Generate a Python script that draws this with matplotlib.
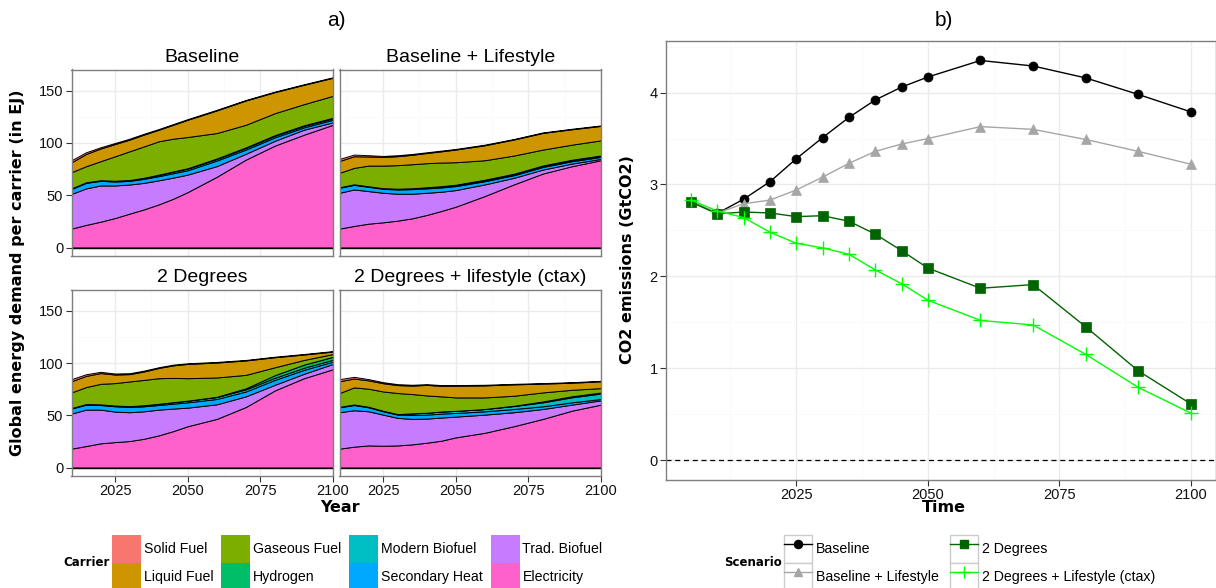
import matplotlib
matplotlib.use('Agg')
import matplotlib.pyplot as plt
from matplotlib.patches import Rectangle
from matplotlib.lines import Line2D
from matplotlib.legend_handler import HandlerTuple

plt.rcParams['font.family'] = ['Liberation Sans', 'DejaVu Sans']

# ---- data: panel a) final energy per carrier (EJ) ----
years = [2010, 2015, 2020, 2025, 2030, 2035, 2040, 2045, 2050, 2060, 2070, 2080, 2090, 2100]

carriers = ['Solid Fuel', 'Liquid Fuel', 'Gaseous Fuel', 'Hydrogen',
            'Modern Biofuel', 'Secondary Heat', 'Trad. Biofuel', 'Electricity']
carrier_colors = ['#F8766D', '#CD9600', '#7CAE00', '#00BE67',
                  '#00BFC4', '#00A9FF', '#C77CFF', '#FF61CC']

# Baseline
bl_elec = [18.1, 21.6, 24.7, 28.2, 32.4, 36.5, 41.2, 46.6, 53.0, 67.6, 84.0, 97.4, 107.8, 117.3]
bl_trad = [33.1, 34.9, 34.6, 31.1, 27.8, 25.3, 23.0, 20.2, 16.7, 10.2, 5.6, 4.6, 4.8, 2.3]
bl_heat = [4.8, 5.3, 4.4, 3.8, 3.5, 3.9, 4.0, 4.2, 4.2, 5.3, 4.0, 3.3, 2.2, 2.5]
bl_modern = [0.5, 0.5, 0.6, 0.7, 0.8, 1.0, 1.2, 1.4, 1.5, 1.5, 1.5, 1.5, 1.4, 1.3]
bl_h2 = [0, 0, 0, 0, 0, 0, 0.2, 0.3, 0.4, 0.5, 0.6, 0.6, 0.6, 0.6]
bl_gas = [15.5, 15.4, 18.2, 23.4, 27.5, 30.0, 31.9, 31.3, 29.8, 24.3, 21.6, 21.0, 20.2, 21.0]
bl_liquid = [9.4, 11.7, 12.1, 11.7, 11.1, 11.3, 11.0, 13.3, 16.5, 21.6, 23.2, 20.1, 18.5, 17.2]
bl_solid = [2.0, 1.6, 1.2, 1.0, 0.9, 0.8, 0.7, 0.7, 0.6, 0.6, 0.5, 0.5, 0.5, 0.5]

# Baseline + Lifestyle
ls_elec = [18.1, 20.6, 22.8, 24.1, 25.7, 27.9, 31.1, 34.9, 39.0, 49.2, 60.3, 70.7, 77.7, 83.4]
ls_trad = [34.2, 34.9, 31.1, 28.2, 25.7, 23.5, 21.2, 18.4, 15.9, 11.1, 6.3, 3.8, 2.5, 1.3]
ls_heat = [4.8, 4.4, 4.1, 3.8, 4.1, 4.4, 4.2, 4.1, 3.8, 3.1, 2.5, 2.5, 2.3, 1.9]
ls_modern = [0.5, 0.5, 0.5, 0.6, 0.7, 0.8, 0.9, 1.0, 1.0, 1.0, 1.0, 1.0, 1.0, 1.0]
ls_h2 = [0, 0, 0, 0, 0, 0, 0.2, 0.2, 0.3, 0.4, 0.4, 0.4, 0.4, 0.4]
ls_gas = [13.8, 15.7, 19.8, 21.6, 22.5, 23.0, 23.0, 22.6, 21.5, 18.6, 17.4, 15.2, 14.4, 14.4]
ls_liquid = [11.3, 11.1, 8.7, 8.2, 8.6, 9.0, 9.7, 10.7, 12.1, 14.3, 15.3, 15.9, 14.7, 13.8]
ls_solid = [2.0, 1.6, 1.2, 1.0, 0.9, 0.8, 0.7, 0.7, 0.6, 0.6, 0.5, 0.5, 0.5, 0.5]

# 2 Degrees
dg_elec = [18.1, 20.6, 23.2, 24.4, 25.4, 27.6, 30.8, 34.9, 39.6, 46.6, 58.0, 73.9, 85.6, 94.2]
dg_trad = [33.6, 34.9, 32.3, 29.2, 27.6, 26.3, 24.7, 21.6, 17.8, 14.0, 10.2, 5.4, 4.2, 5.1]
dg_heat = [4.8, 4.8, 4.4, 5.1, 5.0, 4.8, 4.4, 4.7, 5.1, 5.1, 4.7, 4.7, 3.8, 2.2]
dg_modern = [0.5, 0.5, 0.6, 0.7, 0.8, 1.0, 1.2, 1.4, 1.6, 1.8, 2.0, 2.0, 2.0, 1.8]
dg_h2 = [0, 0, 0, 0, 0, 0, 0, 0, 0, 0.3, 1.0, 2.5, 3.0, 2.8]
dg_gas = [15.0, 16.3, 19.7, 21.5, 23.7, 24.3, 24.5, 23.3, 21.5, 18.5, 12.9, 7.6, 4.5, 2.7]
dg_liquid = [10.7, 10.7, 10.3, 8.2, 7.0, 8.1, 9.8, 12.0, 13.7, 14.3, 13.8, 9.6, 5.2, 2.3]
dg_solid = [2.0, 1.6, 1.2, 1.0, 0.9, 0.8, 0.7, 0.7, 0.6, 0.6, 0.5, 0.5, 0.5, 0.5]

# 2 Degrees + lifestyle (ctax)
dl_elec = [18.1, 20.0, 21.2, 20.9, 21.2, 22.2, 23.8, 25.7, 28.9, 33.3, 39.6, 46.6, 54.5, 60.3]
dl_trad = [34.9, 34.9, 32.7, 29.8, 26.4, 24.4, 23.1, 22.2, 19.9, 17.4, 13.4, 9.5, 5.8, 4.1]
dl_heat = [4.7, 5.0, 3.8, 3.2, 3.1, 3.8, 3.8, 3.8, 3.5, 3.2, 3.1, 2.6, 2.2, 1.3]
dl_modern = [0.5, 0.5, 0.5, 0.5, 0.5, 1.5, 1.8, 2.0, 2.0, 2.2, 2.8, 3.8, 4.8, 5.2]
dl_h2 = [0, 0, 0, 0, 0, 0, 0, 0, 0, 0, 0.3, 0.8, 1.0, 1.0]
dl_gas = [13.2, 16.4, 17.3, 18.5, 20.2, 18.5, 16.6, 14.5, 12.9, 11.1, 9.6, 8.7, 6.2, 4.2]
dl_liquid = [11.3, 8.5, 8.0, 7.9, 7.6, 8.1, 10.1, 10.1, 11.2, 11.5, 10.9, 8.4, 6.8, 6.5]
dl_solid = [2.0, 1.6, 1.2, 1.0, 0.9, 0.8, 0.7, 0.7, 0.6, 0.6, 0.5, 0.5, 0.5, 0.5]

facet_titles = ['Baseline', 'Baseline + Lifestyle', '2 Degrees', '2 Degrees + lifestyle (ctax)']

# ---- data: panel b) CO2 emissions (GtCO2) ----
co2_years = [2005, 2010, 2015, 2020, 2025, 2030, 2035, 2040, 2045, 2050, 2060, 2070, 2080, 2090, 2100]
co2_baseline = [2.81, 2.685, 2.84, 3.03, 3.28, 3.51, 3.73, 3.92, 4.06, 4.17, 4.35, 4.29, 4.16, 3.98, 3.79]
co2_lifestyle = [2.81, 2.69, 2.79, 2.83, 2.94, 3.08, 3.23, 3.36, 3.44, 3.50, 3.63, 3.60, 3.49, 3.36, 3.22]
co2_2deg = [2.81, 2.68, 2.70, 2.69, 2.65, 2.66, 2.60, 2.46, 2.28, 2.09, 1.87, 1.91, 1.45, 0.97, 0.61]
co2_2deg_ls = [2.83, 2.71, 2.64, 2.48, 2.36, 2.31, 2.24, 2.07, 1.92, 1.74, 1.52, 1.47, 1.15, 0.79, 0.51]
scenario_names = ['Baseline', 'Baseline + Lifestyle', '2 Degrees', '2 Degrees + Lifestyle (ctax)']

W, H = 1216, 588
GRID_MAJ = '#EBEBEB'
GRID_MIN = '#FAFAFA'
BORDER = '#7F7F7F'
TICKCOL = '#333333'
BOLD = dict(family='DejaVu Sans', fontweight='bold')


def box(x0, y0, x1, y1):
    return [x0 / W, 1 - y1 / H, (x1 - x0) / W, (y1 - y0) / H]


def style_axes(ax):
    ax.set_facecolor('white')
    for s in ax.spines.values():
        s.set_color(BORDER)
        s.set_linewidth(1.0)
    ax.grid(True, which='major', color=GRID_MAJ, linewidth=1.0)
    ax.grid(True, which='minor', color=GRID_MIN, linewidth=0.6)
    ax.set_axisbelow(True)
    ax.tick_params(which='major', length=4, width=0.8, color=TICKCOL,
                   labelsize=10.5, labelcolor='#111111', pad=2)
    ax.tick_params(which='minor', length=0)


fig = plt.figure(figsize=(W / 100, H / 100), dpi=100)

# ---- panel a) ----
facet_boxes = [(71.5, 69.5, 333, 256), (339.5, 69.5, 601, 256),
               (71.5, 290, 333, 476), (339.5, 290, 601, 476)]
scen_layers = [
    [bl_elec, bl_trad, bl_heat, bl_modern, bl_h2, bl_gas, bl_liquid, bl_solid],
    [ls_elec, ls_trad, ls_heat, ls_modern, ls_h2, ls_gas, ls_liquid, ls_solid],
    [dg_elec, dg_trad, dg_heat, dg_modern, dg_h2, dg_gas, dg_liquid, dg_solid],
    [dl_elec, dl_trad, dl_heat, dl_modern, dl_h2, dl_gas, dl_liquid, dl_solid],
]
stack_colors = carrier_colors[::-1]

for i, (b, layers, title) in enumerate(zip(facet_boxes, scen_layers, facet_titles)):
    ax = fig.add_axes(box(*b))
    style_axes(ax)
    ax.stackplot(years, *layers, colors=stack_colors, edgecolor='black', linewidth=0.7)
    ax.axhline(0, color='black', linewidth=1.0)
    ax.set_xlim(2010, 2100)
    ax.set_ylim(-8.1, 170.1)
    ax.set_xticks([2025, 2050, 2075, 2100])
    ax.set_xticks([2012.5, 2037.5, 2062.5, 2087.5], minor=True)
    ax.set_yticks([0, 50, 100, 150])
    ax.set_yticks([25, 75, 125], minor=True)
    if i % 2 == 1:
        ax.tick_params(axis='y', which='major', length=0, labelleft=False)
    if i < 2:
        ax.tick_params(axis='x', which='major', length=0, labelbottom=False)
    cx = (b[0] + b[2]) / 2
    fig.text(cx / W, 1 - (b[1] - 12.5) / H, title, ha='center', va='center', fontsize=14)

fig.text(336 / W, 1 - 21 / H, 'a)', ha='center', va='center', fontsize=15)
fig.text(340 / W, 1 - 508 / H, 'Year', ha='center', va='center', fontsize=11.5, **BOLD)
fig.text(18 / W, 1 - 273 / H, 'Global energy demand per carrier (in EJ)', ha='center',
         va='center', rotation=90, fontsize=11.5, **BOLD)

# carrier legend
handles = [Rectangle((0, 0), 1, 1, facecolor=c, edgecolor='none') for c in carrier_colors]
fig.legend(handles, carriers, loc='upper left', bbox_to_anchor=(112 / W, 1 - 535 / H),
           ncol=4, frameon=False, fontsize=10.2, handlelength=2.05, handleheight=2.68,
           labelspacing=0, handletextpad=0.2, columnspacing=0.55, borderpad=0,
           borderaxespad=0)
fig.text(86.5 / W, 1 - 563 / H, 'Carrier', ha='center', va='center', fontsize=8.5, **BOLD)

# ---- panel b) ----
axr = fig.add_axes(box(666, 40.5, 1216, 480))
style_axes(axr)
axr.axhline(0, color='black', linestyle=(0, (4, 3)), linewidth=0.9)
line_styles = [('black', 'o', 6.5), ('#A6A6A6', '^', 7), ('#006400', 's', 6.5), ('#00FF00', '+', 10)]
series = [co2_baseline, co2_lifestyle, co2_2deg, co2_2deg_ls]
legend_handles = []
for vals, (col, mk, ms), name in zip(series, line_styles, scenario_names):
    axr.plot(co2_years, vals, color=col, marker=mk, markersize=ms, linewidth=1.0,
             markeredgewidth=1.0 if mk == '+' else 0.5, markeredgecolor=col)
    key = Rectangle((0, 0), 1, 1, facecolor='white', edgecolor='#CCCCCC', linewidth=1.0)
    ln = Line2D([], [], color=col, marker=mk, markersize=ms * 0.9, linewidth=1.0,
                markeredgecolor=col)
    legend_handles.append((key, ln))
axr.set_xlim(2000.25, 2104.75)
axr.set_ylim(-0.2175, 4.5675)
axr.set_xticks([2025, 2050, 2075, 2100])
axr.set_xticks([2012.5, 2037.5, 2062.5, 2087.5], minor=True)
axr.set_yticks([0, 1, 2, 3, 4])
axr.set_yticks([0.5, 1.5, 2.5, 3.5, 4.5], minor=True)

fig.text(944 / W, 1 - 21 / H, 'b)', ha='center', va='center', fontsize=15)
fig.text(944 / W, 1 - 508 / H, 'Time', ha='center', va='center', fontsize=11.5, **BOLD)
fig.text(628 / W, 1 - 260 / H, 'CO2 emissions (GtCO2)', ha='center', va='center',
         rotation=90, fontsize=11.5, **BOLD)

fig.legend(legend_handles, scenario_names, loc='upper left',
           bbox_to_anchor=(784 / W, 1 - 535 / H), ncol=2, frameon=False, fontsize=10.2,
           handlelength=1.98, handleheight=2.68, labelspacing=0, handletextpad=0.29,
           columnspacing=0.75, borderpad=0, borderaxespad=0,
           handler_map={tuple: HandlerTuple(ndivide=1, pad=0)})
fig.text(753 / W, 1 - 563 / H, 'Scenario', ha='center', va='center', fontsize=8.5, **BOLD)

fig.savefig('out.png', dpi=100, facecolor='white')
